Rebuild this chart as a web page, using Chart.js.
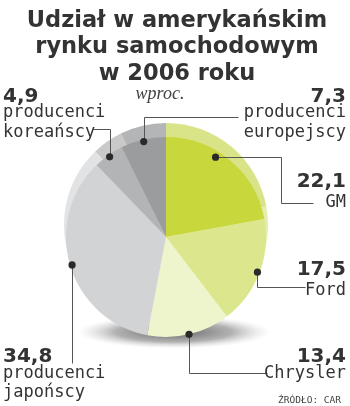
<!DOCTYPE html>
<html>
<head>
<meta charset="utf-8">
<script src="https://cdn.jsdelivr.net/npm/chart.js@4/dist/chart.umd.min.js"></script>
<style>
html, body { margin: 0; padding: 0; background: #fff; }
#wrap { width: 350px; height: 406px; position: relative; }
</style>
</head>
<body>
<div id="wrap"><canvas id="chart" width="350" height="406"></canvas></div>
<script>
// data (share of US car market, 2006, %)
var categories = ['GM', 'Ford', 'Chrysler', 'producenci japońscy', 'producenci koreańscy', 'producenci europejscy'];
var shares = [22.1, 17.5, 13.4, 34.8, 4.9, 7.3];
var valueLabels = ['22,1', '17,5', '13,4', '34,8', '4,9', '7,3'];
var titleLines = ['Udział w amerykańskim', 'rynku samochodowym', 'w 2006 roku'];
var unitText = 'wproc.';
var sourceText = 'ŹRÓDŁO: CAR';

var sliceColors = ['#c8d83c', '#dce68c', '#eef4cc', '#d2d3d5', '#b3b4b5', '#9a9c9e'];
// lighter copies for the raised rim behind the pie
var rimColors = ['#d9e488', '#e6edb0', '#f3f7dc', '#e2e3e4', '#c9c9ca', '#b4b5b6'];

// where each label sits and how its leader line runs (x/y steps from the dot)
var labelLayout = [
	{ align: 'right', x: 346, ys: [187, 207], lines: ['GM'], path: [['x', 281], ['y', 203], ['x', 313]], at: 0.4, r: 0.94 },
	{ align: 'right', x: 346, ys: [275, 295], lines: ['Ford'], path: [['y', 287], ['x', 305]], at: 0.5, r: 0.98 },
	{ align: 'right', x: 346, ys: [362, 378], lines: ['Chrysler'], path: [['y', 373], ['x', 267]], at: 0.5, r: 1.0 },
	{ align: 'left', x: 3, ys: [362, 378, 397], lines: ['producenci', 'japońscy'], path: [['y', 363]], at: 0.5, r: 0.98 },
	{ align: 'left', x: 3, ys: [102, 117, 137], lines: ['producenci', 'koreańscy'], path: [['y', 129], ['x', 93]], at: 0.5, r: 0.98 },
	{ align: 'right', x: 346, ys: [102, 117, 137], lines: ['producenci', 'europejscy'], path: [['y', 117], ['x', 238]], at: 0.5, r: 0.98 }
];

var textColor = '#333333';

// shadow + rim drawn under the slices
var underPie = {
	id: 'underPie',
	beforeDatasetsDraw: function(chart) {
		var ctx = chart.ctx;
		var arcs = chart.getDatasetMeta(0).data;
		var cx = arcs[0].x, cy = arcs[0].y, R = arcs[0].outerRadius;
		ctx.save();
		// soft shadow at the bottom
		ctx.translate(cx + 8, cy + R * 0.95);
		ctx.scale(1, 0.17);
		var g = ctx.createRadialGradient(0, 0, 0, 0, 0, R * 0.97);
		g.addColorStop(0, 'rgba(80,80,80,0.9)');
		g.addColorStop(0.6, 'rgba(125,125,125,0.6)');
		g.addColorStop(1, 'rgba(200,200,200,0)');
		ctx.fillStyle = g;
		ctx.beginPath();
		ctx.arc(0, 0, R * 0.97, 0, Math.PI * 2);
		ctx.fill();
		ctx.restore();
		// lighter rim, shifted up
		ctx.save();
		for (var i = 0; i < arcs.length; i++) {
			var a = arcs[i];
			ctx.fillStyle = rimColors[i];
			ctx.beginPath();
			ctx.moveTo(cx, cy - 12);
			ctx.arc(cx, cy - 12, R + 2, a.startAngle, a.endAngle);
			ctx.closePath();
			ctx.fill();
		}
		ctx.restore();
	}
};

// texts, leader lines and dots
var overPie = {
	id: 'overPie',
	afterDraw: function(chart) {
		var ctx = chart.ctx;
		var arcs = chart.getDatasetMeta(0).data;
		ctx.save();
		ctx.fillStyle = textColor;
		ctx.textBaseline = 'alphabetic';

		ctx.textAlign = 'center';
		ctx.font = 'bold 22.5px "DejaVu Sans"';
		var ty = [27, 53, 80];
		for (var t = 0; t < titleLines.length; t++) ctx.fillText(titleLines[t], 177, ty[t]);

		ctx.font = 'italic 18px "Liberation Serif"';
		ctx.fillStyle = '#444';
		ctx.fillText(unitText, 160, 99);

		for (var i = 0; i < labelLayout.length; i++) {
			var L = labelLayout[i], a = arcs[i];
			var ang = a.startAngle + (a.endAngle - a.startAngle) * L.at;
			var px = a.x + Math.cos(ang) * a.outerRadius * L.r;
			var py = a.y + Math.sin(ang) * a.outerRadius * L.r;

			ctx.strokeStyle = '#555';
			ctx.lineWidth = 1;
			ctx.beginPath();
			ctx.moveTo(Math.round(px) + 0.5, Math.round(py) + 0.5);
			var cxp = Math.round(px) + 0.5, cyp = Math.round(py) + 0.5;
			for (var s = 0; s < L.path.length; s++) {
				if (L.path[s][0] == 'x') cxp = L.path[s][1] + 0.5;
				else cyp = L.path[s][1] + 0.5;
				ctx.lineTo(cxp, cyp);
			}
			ctx.stroke();

			ctx.fillStyle = '#2a2a2a';
			ctx.beginPath();
			ctx.arc(px, py, 3.6, 0, Math.PI * 2);
			ctx.fill();

			ctx.fillStyle = textColor;
			ctx.textAlign = L.align;
			ctx.font = 'bold 20px "DejaVu Sans"';
			ctx.fillText(valueLabels[i], L.x, L.ys[0]);
			ctx.font = '17px "DejaVu Sans Mono"';
			for (var k = 0; k < L.lines.length; k++) ctx.fillText(L.lines[k], L.x, L.ys[k + 1]);
		}

		ctx.textAlign = 'right';
		ctx.font = '9.5px "DejaVu Sans Mono"';
		ctx.fillStyle = '#444';
		ctx.fillText(sourceText, 341, 403);
		ctx.restore();
	}
};

var config = {
	type: 'pie',
	data: {
		labels: categories,
		datasets: [{
			data: shares,
			backgroundColor: sliceColors,
			borderWidth: 0
		}]
	},
	options: {
		responsive: false,
		animation: false,
		layout: { padding: { left: 66, right: 84, top: 137, bottom: 69 } },
		plugins: {
			legend: { display: false },
			tooltip: { enabled: false }
		}
	},
	plugins: [underPie, overPie]
};

var ctx = document.getElementById('chart').getContext('2d');
window.myPie = new Chart(ctx, config);
</script>
</body>
</html>
